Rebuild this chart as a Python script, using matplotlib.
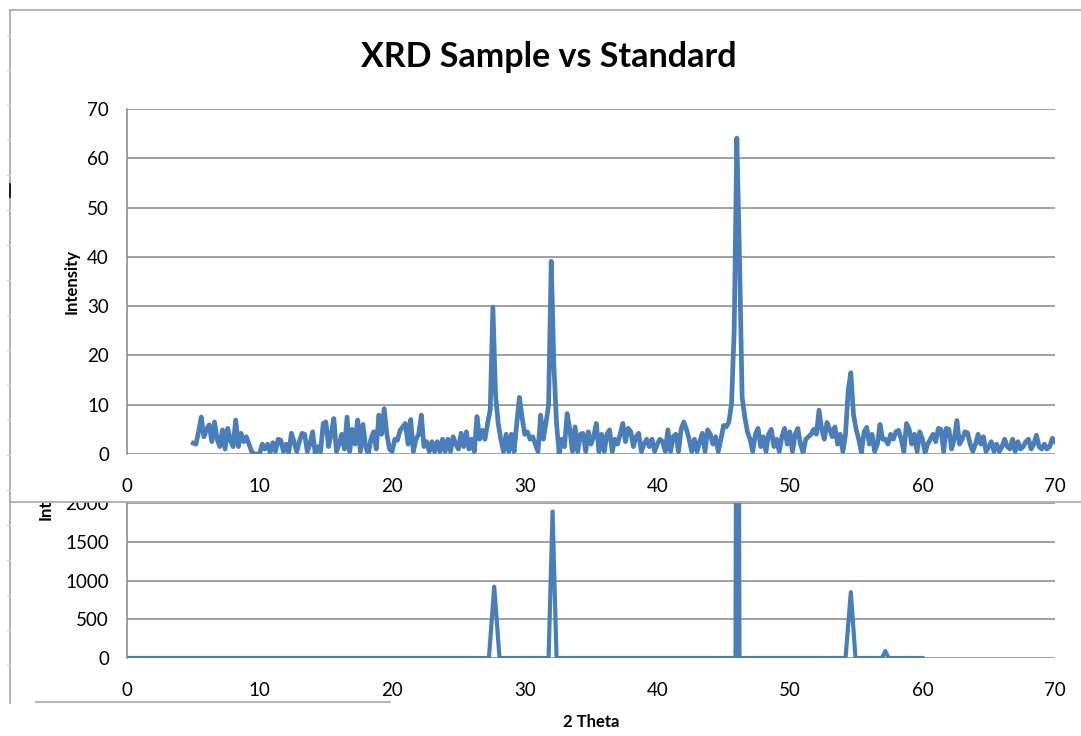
import matplotlib.pyplot as plt
from matplotlib.lines import Line2D
from matplotlib.patches import Rectangle
from matplotlib.transforms import Bbox, TransformedBbox
import numpy as np

plt.rcParams['font.family'] = ['Lato', 'DejaVu Sans']

###########################################
####   DATA   #############################
###########################################

# Sample scan, 2 theta from 5 to 70 deg in 0.2 deg steps
scan_start = 5.0
scan_step = 0.2
sample_counts = [
    2.2, 2.0, 4.5, 7.5, 3.5,    5.0, 5.9, 2.5, 6.5, 3.0,    # 5, 6
    1.5, 4.9, 1.0, 5.2, 2.8,    1.5, 6.9, 1.5, 4.2, 2.5,    # 7, 8
    3.5, 2.0, 0.5, 0.0, 0.0,    0.0, 2.0, 1.0, 2.0, 0.3,    # 9, 10
    2.3, 0.5, 3.0, 2.8, 0.5,    2.0, 0.3, 4.2, 2.5, 0.5,    # 11, 12
    2.5, 4.2, 4.0, 0.5, 2.0,    4.5, 0.0, 1.5, 0.5, 6.2,    # 13, 14
    6.5, 1.5, 4.0, 7.2, 0.5,    2.0, 4.0, 1.0, 7.5, 0.5,    # 15, 16
    5.0, 2.0, 6.9, 0.5, 6.0,    1.5, 0.0, 3.0, 4.5, 1.0,    # 17, 18
    7.9, 4.0, 9.2, 4.0, 1.0,    0.5, 3.0, 2.8, 4.8, 5.5,    # 19, 20
    6.2, 2.0, 7.0, 0.5, 3.0,    4.0, 7.9, 1.5, 2.5, 0.5,    # 21, 22
    2.5, 0.5, 2.5, 0.5, 3.0,    0.5, 3.0, 0.5, 3.5, 2.0,    # 23, 24
    1.0, 4.2, 1.5, 4.5, 1.0,    3.0, 0.5, 7.6, 3.0, 4.8,    # 25, 26
    3.0, 6.2, 9.0, 29.8, 12.0,  6.2, 3.0, 0.5, 4.0, 0.5,    # 27, 28
    4.0, 0.5, 6.2, 11.5, 7.5,   4.0, 4.5, 3.0, 3.5, 2.0,    # 29, 30
    0.5, 7.9, 3.0, 6.2, 10.0,   39.1, 18.0, 6.2, 0.0, 3.0,  # 31, 32
    1.5, 8.2, 5.0, 0.5, 5.5,    0.5, 4.0, 4.2, 0.5, 4.5,    # 33, 34
    2.0, 3.5, 6.2, 0.5, 4.0,    0.5, 4.0, 4.9, 0.5, 3.0,    # 35, 36
    2.0, 4.0, 6.2, 2.5, 5.2,    4.5, 1.5, 3.5, 4.2, 0.5,    # 37, 38
    2.0, 3.0, 1.5, 3.0, 0.5,    2.0, 3.0, 2.5, 0.5, 4.9,    # 39, 40
    0.5, 3.5, 4.0, 0.5, 5.0,    6.5, 5.0, 3.0, 0.5, 3.0,    # 41, 42
    0.5, 2.5, 4.2, 0.5, 4.9,    4.0, 2.0, 3.5, 0.5, 3.0,    # 43, 44
    5.8, 5.5, 6.5, 10.2, 25.0,  64.1, 40.0, 11.5, 7.5, 4.5, # 45, 46
    3.0, 0.5, 4.0, 5.2, 1.5,    3.5, 0.5, 4.0, 5.0, 1.5,    # 47, 48
    3.0, 0.5, 3.5, 5.2, 2.0,    4.5, 0.5, 4.0, 5.2, 2.0,    # 49, 50
    0.3, 3.0, 3.5, 4.0, 5.0,    4.0, 8.9, 5.0, 3.0, 6.4,    # 51, 52
    5.0, 3.5, 5.5, 2.0, 4.0,    0.5, 4.0, 12.9, 16.5, 8.0,  # 53, 54
    5.0, 3.0, 0.3, 4.5, 5.4,    2.0, 4.0, 0.5, 2.0, 6.0,    # 55, 56
    3.0, 3.0, 2.0, 4.0, 3.0,    4.5, 4.8, 3.0, 0.5, 6.2,    # 57, 58
    5.0, 2.0, 4.0, 0.5, 4.5,    3.0, 0.3, 2.0, 3.0, 4.0,    # 59, 60
    2.5, 5.2, 5.0, 0.5, 5.2,    5.0, 1.0, 3.0, 6.8, 2.0,    # 61, 62
    3.0, 4.5, 4.3, 2.0, 0.5,    2.0, 4.0, 2.0, 3.5, 0.5,    # 63, 64
    1.5, 2.5, 0.5, 2.0, 0.5,    1.5, 3.0, 1.5, 1.0, 3.0,    # 65, 66
    0.5, 2.5, 1.0, 1.5, 2.5,    3.0, 1.0, 2.0, 3.8, 1.5,    # 67, 68
    1.0, 2.0, 1.0, 1.5, 3.2,    2.5,                        # 69, 70
]

# Reference pattern (standard); the 46 deg line runs far off scale
std_theta = [0.0, 27.3, 27.7, 28.1, 31.8, 32.1, 32.4, 45.9, 46.05, 46.2,
             54.2, 54.6, 54.95, 56.95, 57.2, 57.45, 60.0]
std_counts = [0, 0, 920, 0, 0, 1890, 0, 0, 10000, 0,
              0, 850, 0, 0, 90, 0, 0]

x_ticks = list(range(0, 71, 10))
top_y_ticks = list(range(0, 71, 10))
bot_y_ticks = list(range(0, 2001, 500))

###########################################
####   FIGURE   ###########################
###########################################

W, H = 1081, 736
blue = '#4A7EBB'
grid_col = '#868686'
frame_col = '#a6a6a6'

fig = plt.figure(figsize=(W / 100, H / 100), dpi=100)


def px_axes(left, top, right, bottom):
    # place an axes using pixel edges measured from the top-left corner
    return fig.add_axes([left / W, 1 - bottom / H, (right - left) / W,
                         (bottom - top) / H])


def style(ax, yticks):
    ax.set_xlim(0, 70)
    ax.set_xticks(x_ticks)
    ax.set_ylim(yticks[0], yticks[-1])
    ax.set_yticks(yticks)
    ax.yaxis.grid(True, color=grid_col, lw=1.1)
    ax.set_axisbelow(True)
    for s in ('top', 'right', 'bottom'):
        ax.spines[s].set_visible(False)
    ax.spines['left'].set_color(grid_col)
    ax.spines['left'].set_linewidth(1.1)
    ax.tick_params(length=0, labelsize=13.5, colors='black')
    ax.tick_params(axis='x', pad=17)
    ax.tick_params(axis='y', pad=13)


# sample
ax1 = px_axes(127, 109, 1055, 454)
theta = scan_start + scan_step * np.arange(len(sample_counts))
ax1.plot(theta, sample_counts, color=blue, lw=3.4, solid_joinstyle='round')
style(ax1, top_y_ticks)

# standard
ax2 = px_axes(127, 503, 1055, 658)
ax2.plot(std_theta, std_counts, color=blue, lw=3.0, solid_joinstyle='round')
style(ax2, bot_y_ticks)

fig.text(72 / W, 1 - 282 / H, 'Intensity', rotation=90, ha='center',
         va='center', fontsize=12, fontweight='bold')

# cut-off axis label of the lower chart
clip = TransformedBbox(Bbox([[0, 0], [1, 1 - 503 / H]]), fig.transFigure)
fig.text(46 / W, 1 - 487 / H, 'Intensity', rotation=90, ha='center',
         va='center', fontsize=12, fontweight='bold', clip_box=clip,
         clip_on=True)

fig.text(548.5 / W, 1 - 57 / H, 'XRD Sample vs Standard', ha='center',
         va='center', fontsize=24.5, fontweight='bold')
fig.text(591 / W, 1 - 722 / H, '2 Theta', ha='center', va='center',
         fontsize=12, fontweight='bold')

# upper chart area hides the top of the lower one
fig.add_artist(Rectangle((11 / W, 1 - 502 / H), 107 / W, 36 / H,
                         transform=fig.transFigure, facecolor='white',
                         edgecolor='none', zorder=3))


def fig_line(xs, ys, **kw):
    fig.add_artist(Line2D([x / W for x in xs], [1 - y / H for y in ys],
                          transform=fig.transFigure, zorder=4, **kw))


fig_line([10, W], [10, 10], color=frame_col, lw=1.2)
fig_line([10, 10], [10, 703], color=frame_col, lw=1.2)
fig_line([10, W], [502, 502], color=frame_col, lw=1.2)
fig_line([36, 390], [702, 702], color=frame_col, lw=1.2)
fig_line([10, 10], [184, 197], color='black', lw=1.2)
for y in range(35, 700, 35):
    fig_line([7, 10], [y, y], color='#d4d4d4', lw=1)

fig.savefig('out.png', dpi=100)
